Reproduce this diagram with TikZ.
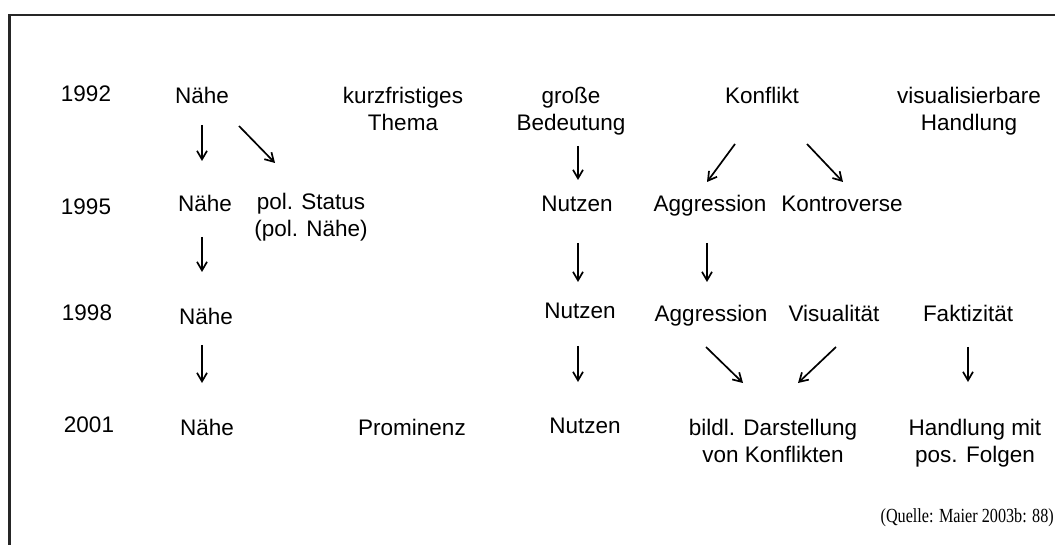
\documentclass[tikz,border=0pt]{standalone}
\usepackage{fontspec}
\setmainfont{Liberation Sans}
\newfontfamily\quellefont{Liberation Serif}
\usetikzlibrary{arrows.meta}
\begin{document}
\begin{tikzpicture}[x=1pt,y=-1pt,
  lbl/.style={font=\fontsize{22.5}{27}\selectfont, inner sep=0pt, align=center, anchor=base},
  arr/.style={line width=1.7pt, -{Straight Barb[length=8.5pt,width=10pt,line width=1.7pt]}},
  frameline/.style={line width=2.4pt, draw=black!85}]
\useasboundingbox (0,0) rectangle (1055,545);
\coordinate (fr1) at (1055,15);
\coordinate (fr2) at (9.5,15);
\coordinate (fr3) at (9.5,545);
\draw[frameline] (fr1) -- (fr2) -- (fr3);
% row 1992 (multi-line nodes anchored at the baseline of their last line)
\node[lbl] (y92) at (86,102) {1992};
\node[lbl] (n92) at (202,104) {Nähe};
\node[lbl] (kt) at (403,131) {kurzfristiges\\Thema};
\node[lbl] (gb) at (571,131) {große\\Bedeutung};
\node[lbl] (kf) at (762,104) {Konflikt};
\node[lbl] (vh) at (969,131) {visualisierbare\\Handlung};
% row 1995
\node[lbl] (y95) at (86,215) {1995};
\node[lbl] (n95) at (205,212) {Nähe};
\node[lbl] (ps) at (311,237) {pol. Status\\(pol. Nähe)};
\node[lbl] (nu95) at (577,212) {Nutzen};
\node[lbl] (ag95) at (710,212) {Aggression};
\node[lbl] (ko) at (842,212) {Kontroverse};
% row 1998
\node[lbl] (y98) at (87,321) {1998};
\node[lbl] (n98) at (206,324) {Nähe};
\node[lbl] (nu98) at (580,319) {Nutzen};
\node[lbl] (ag98) at (711,322) {Aggression};
\node[lbl] (vi) at (834,322) {Visualität};
\node[lbl] (fa) at (968,322) {Faktizität};
% row 2001
\node[lbl] (y01) at (89,432) {2001};
\node[lbl] (n01) at (207,435) {Nähe};
\node[lbl] (pr) at (412,435) {Prominenz};
\node[lbl] (nu01) at (585,433) {Nutzen};
\node[lbl] (bd) at (773,462) {bildl. Darstellung\\von Konflikten};
\node[lbl] (hm) at (975,462) {Handlung mit\\pos. Folgen};
% source
\node[font=\quellefont\fontsize{20}{24}\selectfont, anchor=base east, inner sep=0pt] (q) at (1054,522) {\scalebox{0.81}[1]{(Quelle: Maier 2003b: 88)}};
% arrow end points
\coordinate (a1s) at (202,125);  \coordinate (a1e) at (202,161);
\coordinate (a2s) at (239,126);  \coordinate (a2e) at (275,163);
\coordinate (a3s) at (202,237);  \coordinate (a3e) at (202,272);
\coordinate (a4s) at (202,345);  \coordinate (a4e) at (202,383);
\coordinate (a5s) at (578,146);  \coordinate (a5e) at (578,180);
\coordinate (a6s) at (735,144);  \coordinate (a6e) at (707,182);
\coordinate (a7s) at (807,144);  \coordinate (a7e) at (843,182);
\coordinate (a8s) at (578,243);  \coordinate (a8e) at (578,282);
\coordinate (a9s) at (707,243);  \coordinate (a9e) at (707,282);
\coordinate (a10s) at (578,346); \coordinate (a10e) at (578,382);
\coordinate (a11s) at (706,347); \coordinate (a11e) at (743,383);
\coordinate (a12s) at (836,347); \coordinate (a12e) at (798,383);
\coordinate (a13s) at (968,347); \coordinate (a13e) at (968,382);
\foreach \i in {1,...,13} {\draw[arr] (a\i s) -- (a\i e);}
\end{tikzpicture}
\end{document}
